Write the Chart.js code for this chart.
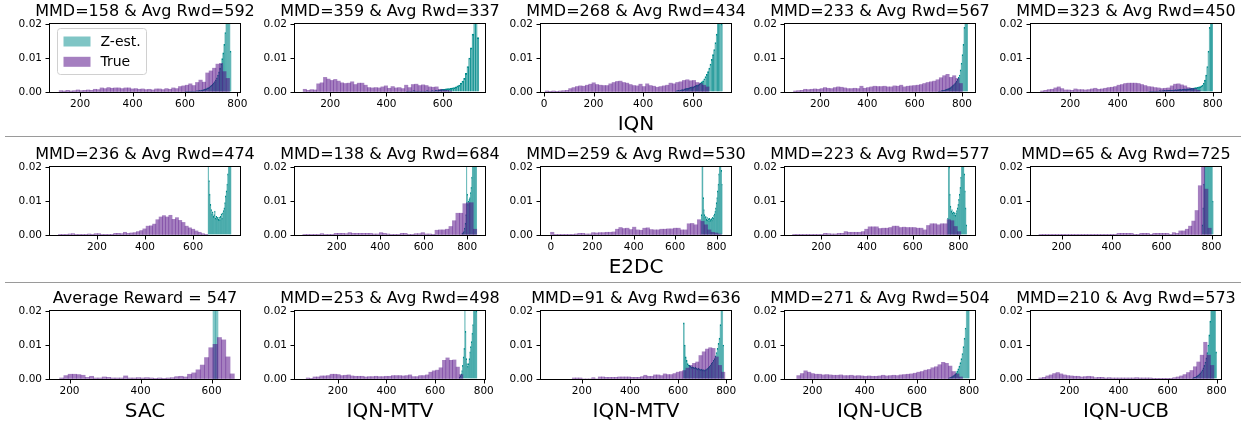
<!DOCTYPE html>
<html>
<head>
<meta charset="utf-8">
<script src="https://cdn.jsdelivr.net/npm/chart.js@4.4.0/dist/chart.umd.min.js"></script>
<style>
  html, body { margin: 0; padding: 0; background: #fff; overflow: hidden; }
  #fig { position: relative; width: 1248px; height: 428px; overflow: hidden; }
  .panel { position: absolute; width: 290px; height: 145px; }
  .rule { position: absolute; left: 5px; width: 1236px; height: 1px; background: #9a9a9a; }
</style>
</head>
<body>
<div id="fig">
  <div class="rule" style="top:136px"></div>
  <div class="rule" style="top:282px"></div>
</div>
<script>
// panel titles and row labels (row by row, left to right)
const titles = [
  "MMD=158 & Avg Rwd=592", "MMD=359 & Avg Rwd=337", "MMD=268 & Avg Rwd=434", "MMD=233 & Avg Rwd=567", "MMD=323 & Avg Rwd=450",
  "MMD=236 & Avg Rwd=474", "MMD=138 & Avg Rwd=684", "MMD=259 & Avg Rwd=530", "MMD=223 & Avg Rwd=577", "MMD=65 & Avg Rwd=725",
  "Average Reward = 547", "MMD=253 & Avg Rwd=498", "MMD=91 & Avg Rwd=636", "MMD=271 & Avg Rwd=504", "MMD=210 & Avg Rwd=573",
];
const axisLabels = ["", "", "IQN", "", "", "", "", "E2DC", "", "", "SAC", "IQN-MTV", "IQN-MTV", "IQN-UCB", "IQN-UCB"];
const seriesNames = ["Z-est.", "True"];

// tick labels
const xTicks = [0, 200, 400, 600, 800];
const yTicks = [0, 0.01, 0.02];

// x-axis ranges (reward)
const xMin = [85, 75, -12, 52, 35, 5, 8, -48, 42, 78, 145, 24, 30, 95, 43];
const xMax = [810, 750, 755, 855, 835, 795, 882, 870, 872, 838, 680, 805, 820, 822, 818];

// histogram bins: first edge and bin width
const trueStart = [120, 104, 5, 88, 75, 40, 44, -2, 75, 110, 172, 70, 160, 140, 75];
const trueWidth = [13, 12, 13.5, 14, 14, 13.5, 16, 16.5, 15, 13, 12, 14, 13.5, 13.5, 14];
const zestStart = [600, 470, 530, 700, 530, 662, 775, 726, 752, 762, 604, 700, 622, 720, 700];
const zestWidth = [4, 6, 5, 4, 5, 3, 3, 3, 3, 3, 7, 3, 4, 4, 4];

// densities, in units of 1e-3
const true1 = [0.4,0.3,0.5,0.3,0.4,0.6,0.4,0.5,0.6,0.5,0.8,0.7,1.2,1.0,1.3,1.1,1.2,1.2,1.0,1.2,1.2,0.9,1.0,0.8,0.9,0.7,0.8,0.6,0.9,0.9,0.7,1.0,0.8,1.2,1.0,1.6,1.8,2.0,2.4,1.9,2.8,3.5,2.9,5.6,6.2,7.0,8.2,8.4,6.0,4.0];
const zest1 = [0.1,0.1,0.2,0.1,0.2,0.2,0.1,0.3,0.2,0.3,0.3,0.4,0.3,0.5,0.4,0.6,0.5,0.7,0.8,0.9,1.0,1.2,1.3,1.5,1.8,2.0,2.3,2.7,3.1,3.6,4.2,5.0,5.9,7.0,8.3,9.8,11.5,14,17.5,23,30,38,30,12];

const true2 = [0.8,0.5,0.7,0.6,2.4,2.7,4.3,3.8,3.4,3.7,3.2,2.7,2.5,2.6,3.0,2.2,2.6,2.6,2.0,1.3,1.2,1.3,1.2,1.5,1.8,1.1,1.6,1.2,1.3,1.0,2.0,1.3,2.2,2.3,1.9,2.1,1.9,1.5,1.4,1.5,0.8,0.6,0.5,0.3];
const zest2 = [0.2,0.3,0.2,0.3,0.4,0.3,0.2,0.3,0.2,0.3,0.3,0.2,0.4,0.3,0.3,0.4,0.3,0.5,0.4,0.6,0.7,0.8,0.8,0.9,1.0,1.0,1.1,1.2,1.3,1.5,1.8,2.0,2.6,3.2,4.0,5.5,7.5,10,13,17,24,30,16];

const true3 = [0.3,0.2,0.3,0.2,0.3,0.4,0.5,1.0,1.3,1.6,1.8,1.7,2.0,2.3,2.7,2.2,2.0,1.9,1.9,2.4,2.8,3.1,3.2,2.8,2.6,2.2,1.9,1.8,2.3,1.6,2.4,1.9,1.7,1.4,1.6,1.8,2.0,2.6,2.4,2.8,3.0,3.4,3.6,3.3,3.4,2.8,2.5,2.0,1.5];
const zest3 = [0.3,0.4,0.5,0.4,0.6,0.7,0.7,0.9,1.0,1.1,1.1,1.3,1.4,1.5,1.5,1.7,1.9,2.0,2.1,2.4,2.7,3.0,3.3,3.9,4.5,5.2,6.0,7.0,8.2,9.6,11,12.5,14.5,17,21,26,32,20];

const true4 = [0.3,0.4,0.5,0.8,0.7,0.8,0.9,0.8,1.0,1.3,1.1,1.0,1.3,1.5,1.4,1.2,1.0,1.0,1.1,1.0,1.7,1.1,1.3,1.5,1.7,1.6,1.6,1.7,1.5,1.5,1.8,1.7,2.0,1.5,1.7,1.8,1.9,2.0,2.2,2.5,2.8,3.0,3.2,3.6,4.2,4.8,5.2,4.3,4.8,4.0,2.5];
const zest4 = [0.2,0.3,0.3,0.4,0.5,0.5,0.6,0.7,0.8,0.9,1.0,1.1,1.3,1.5,1.7,2.0,2.2,2.5,2.8,3.2,3.7,4.3,5.0,6.5,8.5,11,14,19,26,34,22];

const true5 = [0.3,0.5,0.7,0.8,1.2,1.5,1.0,0.6,0.6,0.5,0.9,0.7,0.7,0.6,0.7,0.9,1.1,0.8,0.9,1.1,1.3,1.4,1.6,2.0,2.2,2.5,2.6,2.6,2.6,2.5,2.2,1.9,1.6,1.5,1.3,1.2,1.0,1.1,1.2,1.8,2.3,2.4,2.1,1.8,1.3,1.1,0.9,0.5];
const zest5 = [0.1,0.2,0.2,0.2,0.3,0.2,0.3,0.3,0.3,0.4,0.3,0.4,0.4,0.5,0.4,0.5,0.5,0.5,0.6,0.5,0.6,0.6,0.7,0.6,0.7,0.7,0.8,0.7,0.8,0.8,0.9,0.8,0.9,0.9,1.0,1.0,1.1,1.1,1.2,1.3,1.3,1.4,1.5,1.6,1.8,2.0,2.6,3.5,5.0,7.5,12,19,28,40];

const true6 = [0.2,0.2,0.2,0.3,0.4,0.2,0.2,0.2,0.2,0.3,0.2,0.4,0.4,0.2,0.2,0.2,0.2,0.5,0.5,0.4,0.8,0.5,0.6,0.7,1.0,1.3,1.8,2.6,2.7,3.2,4.5,5.3,5.7,5.3,5.8,4.6,5.1,4.3,3.7,2.6,2.1,1.7,1.2,0.8,0.4,0.2];
const zest6 = [24,16,12,9,7.5,6.2,6.8,5.5,6.0,7.0,5.0,5.5,4.8,5.2,4.6,5.3,4.5,5.5,6.2,5.0,6.5,7.2,8.0,9.5,11.5,13,15,18,22,28,35,30];

const true7 = [0.2,0.2,0.2,0.2,0.2,0.4,0.2,0.2,0.2,0.5,0.5,0.5,0.4,0.7,0.5,0.5,0.5,0.5,0.5,0.5,0.3,0.3,0.7,0.5,0.3,0.2,0.2,0.2,0.5,0.5,0.2,0.2,0.4,0.4,0.7,0.3,0.3,0.2,1.4,1.5,1.5,1.7,2.5,4.2,6.4,6.4,9.2,9.5,9.5,1.7];
const zest7 = [0.4,0.6,0.8,1.2,2.0,3.5,6,25,12,9,10,10.5,11,12.5,14,17,22,30,40,45,40,35,25];

const true8 = [0.8,0.2,0.2,0.2,0.2,0.2,0.2,0.3,0.5,0.5,0.3,0.3,0.7,0.6,0.7,0.7,0.8,0.8,0.9,1.7,2.2,1.9,2.0,1.6,2.3,1.5,1.4,2.0,2.1,1.6,1.5,1.5,1.7,1.7,1.8,1.8,2.0,2.0,1.5,1.5,3.3,3.4,3.0,4.5,4.0,3.0,1.5,0.8,0.6,0.3];
const zest8 = [6,25,22,11,7.5,6.0,5.3,5.5,4.6,5.2,4.4,4.8,4.2,4.9,4.3,4.6,4.8,4.4,5.2,5.0,5.8,6.2,7.0,8.0,9.5,11,13,15,18,22,30,35,19,15];

const true9 = [0.2,0.2,0.2,0.2,0.2,0.2,0.2,0.2,0.2,0.5,0.4,0.3,0.3,0.5,0.5,1.0,0.8,0.8,0.8,0.8,1.0,1.7,2.4,2.4,2.4,1.9,2.0,2.0,2.2,2.6,2.6,2.2,2.3,2.2,2.2,2.2,2.0,2.0,1.5,2.8,3.3,3.3,3.0,3.3,3.3,4.5,4.2,2.5,1.0];
const zest9 = [5,24,20,12,8.5,7.0,7.5,6.5,6.8,6.0,6.6,5.8,6.5,7.2,8.0,9.0,10.5,12,14,17,21,26,32,28,18,13,8,3];

const true10 = [0.1,0.2,0.1,0.1,0.2,0.1,0.1,0.2,0.1,0.1,0.2,0.1,0.1,0.1,0.2,0.1,0.1,0.2,0.1,0.1,0.2,0.1,0.2,0.1,0.5,0.5,0.5,0.5,0.5,0.2,0.1,0.5,0.5,0.5,0.2,0.5,0.5,0.5,0.5,0.5,0.2,0.7,0.5,1.2,1.2,1.7,2.6,4.1,7.2,14.5,22,13.5,2.0];
const zest10 = [3,8,15,25,35,30,40,45,50,45,40,35,28,22,10];

const true11 = [0.3,1.0,1.4,1.4,1.3,1.1,0.5,0.8,0.3,0.3,0.6,0.5,0.3,0.3,0.3,0.9,0.3,0.3,0.4,0.3,0.4,0.3,0.2,0.3,0.2,0.3,0.4,0.7,0.8,0.6,1.4,1.8,2.7,4.1,6.3,9.2,10.2,12.2,11.5,6.5,1.5];
const zest11 = [30, 30];

const true12 = [0.3,0.2,0.6,0.6,0.9,0.9,1.0,1.4,1.4,1.3,1.0,1.1,1.2,0.9,0.8,0.8,0.8,0.6,0.7,0.7,0.8,0.7,0.7,0.8,0.8,1.0,1.0,1.0,0.9,1.0,1.2,0.7,0.7,1.0,1.0,1.2,2.0,2.4,2.6,3.3,5.5,6.2,5.5,5.6,3.5,1.3];
const zest12 = [0.6,1.0,1.5,2.5,4.0,6.5,9,25,14,6,4.5,3.8,4.5,6.0,8,9.5,11,13.5,16,24,35,40,30,20];

const true13 = [0.3,0.3,0.3,0,0,0,0.4,0,0.6,0.6,0.5,0.5,0.5,0.5,0.6,0.6,0.6,0.6,0.5,0.5,0.5,0.7,1.1,0.8,0.8,1.2,1.2,1.0,1.5,1.3,1.3,1.6,2.0,2.2,2.5,3.2,4.0,4.6,5.0,6.9,8.0,8.8,9.2,9.0,6.5,4.0,2.0];
const zest13 = [16.5,10,6.5,5.5,4.5,4.2,4.0,3.8,3.5,3.6,3.4,3.3,3.4,3.2,3.0,3.2,3.0,2.8,2.9,2.7,2.8,2.6,2.7,2.8,3.0,3.2,3.5,3.8,4.2,4.6,5.0,5.5,6.0,6.8,7.8,9.0,10.5,12,16,30,25,10];

const true14 = [1.0,1.6,2.4,2.0,1.6,1.4,1.4,1.2,1.3,1.2,1.1,1.1,1.2,1.0,1.0,1.1,0.9,1.0,0.9,0.8,0.9,0.8,0.8,0.9,1.1,0.9,1.0,1.1,1.0,1.2,1.3,1.4,1.5,1.7,2.0,2.2,2.6,2.8,3.3,3.6,4.2,4.9,4.6,3.8,2.2,1.5,0.6];
const zest14 = [0.3,0.4,0.5,0.7,0.9,1.1,1.4,1.8,2.3,3.0,3.8,4.8,6.0,7.5,9.5,12,15,22,34,40];

const true15 = [0.3,0.5,0.9,1.2,1.6,1.9,1.5,1.2,1.0,0.9,0.8,0.8,0.6,0.7,0.8,0.7,0.4,0.5,0.5,0.3,0.4,0.3,0.3,0.3,0.3,0.3,0.3,0.3,0.4,0.3,0.3,0.3,0.3,0.2,0.2,0.2,0.2,0.2,0.2,0.4,0.6,0.9,1.3,1.9,2.5,3.6,5.0,7.0,10.8,7.0,4.0];
const zest15 = [0.3,0.4,0.5,0.6,0.8,1.0,1.2,1.5,1.8,2.2,2.7,3.3,4.0,5.0,6.2,7.8,10,13,17,24,32,40,35,22,8];

const trueVals = [true1, true2, true3, true4, true5, true6, true7, true8, true9, true10, true11, true12, true13, true14, true15];
const zestVals = [zest1, zest2, zest3, zest4, zest5, zest6, zest7, zest8, zest9, zest10, zest11, zest12, zest13, zest14, zest15];

// layout of the grid (plot-area top-left corners)
const colLeft = [50, 295, 541, 785, 1031];
const rowTop = [24, 167, 311];

Chart.defaults.font.family = "'DejaVu Sans', sans-serif";
Chart.defaults.color = "#000";

const toBins = (start, width, vals) =>
  vals.map((v, i) => ({ x: start + width * (i + 0.5), y: v / 1000 }));

// black box round the axes plus outward tick marks
const frame = {
  id: "frame",
  afterDatasetsDraw(chart) {
    const { ctx, chartArea: a, scales } = chart;
    ctx.save();
    ctx.strokeStyle = "#000";
    ctx.lineWidth = 1;
    ctx.strokeRect(a.left - 0.5, a.top - 0.5, a.width + 1, a.height + 1);
    ctx.beginPath();
    scales.x.ticks.forEach((t) => {
      const px = Math.round(scales.x.getPixelForValue(t.value)) + 0.5;
      ctx.moveTo(px, a.bottom + 0.5);
      ctx.lineTo(px, a.bottom + 4.5);
    });
    scales.y.ticks.forEach((t) => {
      const py = Math.round(scales.y.getPixelForValue(t.value)) + 0.5;
      ctx.moveTo(a.left - 0.5, py);
      ctx.lineTo(a.left - 4.5, py);
    });
    ctx.stroke();
    ctx.restore();
  },
};

// matplotlib style legend box inside the first panel
const boxLegend = {
  id: "boxLegend",
  afterDraw(chart) {
    const { ctx, chartArea: a } = chart;
    const x = a.left + 7.5, y = a.top + 4.5;
    ctx.save();
    ctx.beginPath();
    ctx.roundRect(x, y, 89, 46, 3);
    ctx.fillStyle = "rgba(255,255,255,0.8)";
    ctx.fill();
    ctx.strokeStyle = "#d0d0d0";
    ctx.lineWidth = 1;
    ctx.stroke();
    ctx.font = "14px 'DejaVu Sans'";
    ctx.textBaseline = "middle";
    chart.data.datasets.forEach((ds, i) => {
      ctx.fillStyle = ds.backgroundColor;
      ctx.fillRect(x + 6, y + 8 + i * 20.3, 27, 10);
      ctx.fillStyle = "#000";
      ctx.fillText(ds.label, x + 43, y + 13.5 + i * 20.3);
    });
    ctx.restore();
  },
};

const fig = document.getElementById("fig");

for (let i = 0; i < 15; i++) {
  const row = Math.floor(i / 5);
  const col = i % 5;
  const div = document.createElement("div");
  div.className = "panel";
  div.style.left = (colLeft[col] - 50) + "px";
  div.style.top = (rowTop[row] - 24) + "px";
  const canvas = document.createElement("canvas");
  canvas.width = 290;
  canvas.height = 145;
  div.appendChild(canvas);
  fig.appendChild(div);

  const label = axisLabels[i];

  new Chart(canvas, {
    type: "bar",
    data: {
      datasets: [
        {
          label: seriesNames[0],
          data: toBins(zestStart[i], zestWidth[i], zestVals[i]),
          backgroundColor: "rgba(0,139,139,0.5)",
          borderColor: "rgb(0,139,139)",
          borderWidth: i === 10 ? 0 : 1,
          stack: "hist",
          order: 1,
        },
        {
          label: seriesNames[1],
          data: toBins(trueStart[i], trueWidth[i], trueVals[i]),
          backgroundColor: "rgba(75,0,130,0.5)",
          borderWidth: 0,
          stack: "hist",
          order: 0,
        },
      ],
    },
    options: {
      responsive: false,
      animation: false,
      events: [],
      barThickness: "flex",
      categoryPercentage: 1,
      barPercentage: 1,
      layout: { padding: 0 },
      plugins: {
        legend: { display: false },
        tooltip: { enabled: false },
        title: {
          display: true,
          text: titles[i],
          font: { size: 16, weight: "normal" },
          color: "#000",
          padding: { top: 2, bottom: 2.8 },
        },
      },
      scales: {
        x: {
          type: "linear",
          min: xMin[i],
          max: xMax[i],
          offset: false,
          border: { display: false },
          grid: { drawOnChartArea: false, drawTicks: true, tickLength: 4, color: "rgba(0,0,0,0)" },
          ticks: {
            autoSkip: false,
            maxRotation: 0,
            padding: 2,
            font: { size: 10.5 },
            callback: (v) => String(v),
          },
          afterBuildTicks: (s) => {
            s.ticks = xTicks.filter((v) => v >= s.min && v <= s.max).map((v) => ({ value: v }));
          },
          title: {
            display: label !== "",
            text: label,
            font: { size: 20 },
            padding: { top: 0, bottom: 8 },
          },
          afterFit: (s) => { s.height = 53; },
        },
        y: {
          min: 0,
          max: 0.02,
          stacked: false,
          border: { display: false },
          grid: { drawOnChartArea: false, drawTicks: true, tickLength: 4, color: "rgba(0,0,0,0)" },
          ticks: {
            padding: 4,
            font: { size: 10.5 },
            callback: (v) => v.toFixed(2),
          },
          afterBuildTicks: (s) => {
            s.ticks = yTicks.map((v) => ({ value: v }));
          },
          afterFit: (s) => { s.width = 50; },
        },
        // empty right-hand axis: same width as the left one so the title sits centred over the plot
        yPad: {
          type: "linear",
          axis: "y",
          position: "right",
          min: 0,
          max: 1,
          border: { display: false },
          grid: { display: false },
          ticks: { display: false },
          afterFit: (s) => { s.width = 50; },
        },
      },
    },
    plugins: i === 0 ? [frame, boxLegend] : [frame],
  });
}
</script>
</body>
</html>
